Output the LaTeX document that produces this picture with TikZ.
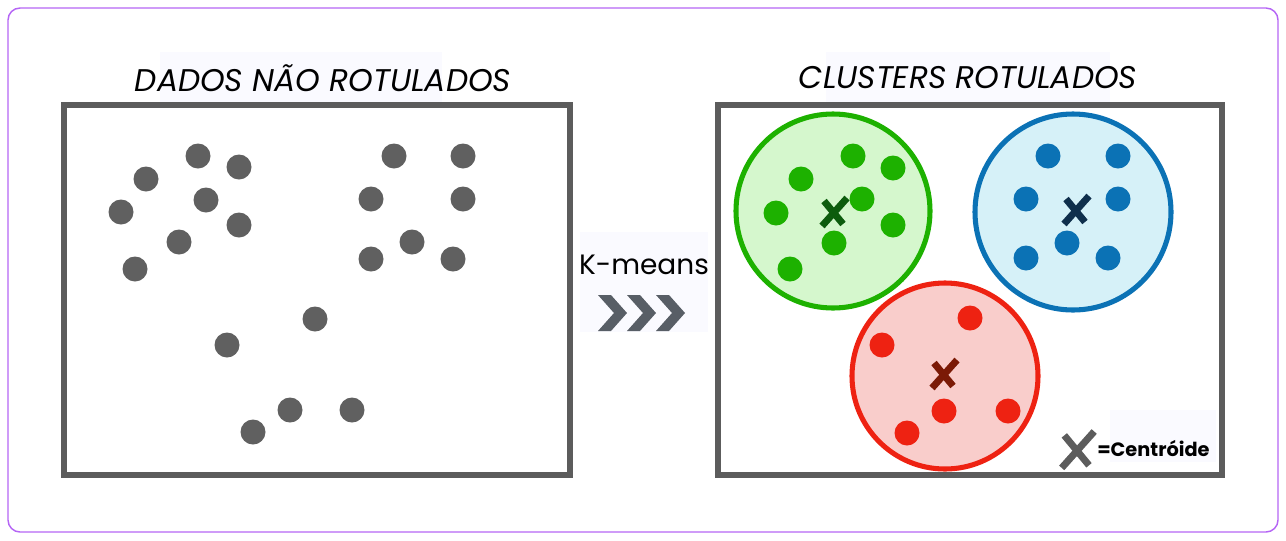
\documentclass[tikz,border=0pt]{standalone}
\usepackage{fontspec}
\setmainfont{Poppins}
\usepackage{tikz}
\usepackage{xcolor}
\usetikzlibrary{positioning}
\definecolor{framepurple}{HTML}{B565F5}
\definecolor{boxgray}{HTML}{5C5C5C}
\definecolor{dotgray}{HTML}{606060}
\definecolor{chevgray}{HTML}{585E66}
\definecolor{paleback}{HTML}{FAFAFF}
\definecolor{grfill}{HTML}{D5F7CD}
\definecolor{grline}{HTML}{1DB100}
\definecolor{grdark}{HTML}{0D5C0D}
\definecolor{blfill}{HTML}{D6F1F8}
\definecolor{blline}{HTML}{0B72B5}
\definecolor{bldark}{HTML}{0F2F4C}
\definecolor{rdfill}{HTML}{F9CDCB}
\definecolor{rdline}{HTML}{EE2212}
\definecolor{rddark}{HTML}{7B1A06}
\tikzset{
  databox/.style={draw=boxgray,line width=5.2pt},
  cluster/.style={line width=3.8pt},
  titletext/.style={font=\fontsize{23.5}{28}\selectfont\itshape,text=black},
  centroid/.pic={
    \draw[line width=5.2pt,line join=round] (-9,-12)--(10,11);
    \draw[line width=5.2pt,line join=round] (14,-15)--(-11,13);
  }
}
\begin{document}
\begin{tikzpicture}[x=0.75pt,y=-0.75pt]
    \useasboundingbox (0,0) rectangle (1286,540);
    \draw[color=framepurple,line width=1.1pt,rounded corners=9pt](8,8) rectangle (1278,532);
    % titles
    \fill[paleback] (160,52) rectangle (442,104);
    \fill[paleback] (826,52) rectangle (1110,104);
    \node[titletext] (tleft) at (323,78) {DADOS NÃO ROTULADOS};
    \node[titletext] (tright) at (968,78) {CLUSTERS ROTULADOS};
    % boxes
    \draw[databox] (64,105) rectangle (570,475);
    % left data
    \foreach \px/\py in {198/156,239/167,146/179,206/200,121/212,239/225,179/242,135/269,
        394/156,463/156,371/199,463/199,412/242,371/259,453/259,
        315/319,227/345,290/410,352/410,253/432}
        \fill[dotgray] (\px,\py) circle (12.5);
    % arrow
    \fill[paleback] (580,232) rectangle (708,332);
    \node[font=\fontsize{21}{24}\selectfont] (kmeans) at (644,265) {K-means};
    \foreach \cx in {598,627,656}
        \fill[chevgray] (\cx,295)--(\cx+13,295)--(\cx+29,313)--(\cx+13,331)--(\cx,331)--(\cx+16,313)--cycle;
    % clusters
    \draw[databox] (718,105) rectangle (1222,475);
    \filldraw[cluster,fill=grfill,draw=grline] (833,211) circle (97);
    \filldraw[cluster,fill=blfill,draw=blline] (1073,212) circle (98);
    \filldraw[cluster,fill=rdfill,draw=rdline] (945,376) circle (93);
    \foreach \px/\py in {853/156,893/168,801/179,862/199,776/213,893/225,834/243,790/269}
        \fill[grline] (\px,\py) circle (12.5);
    \foreach \px/\py in {1048/156,1118/156,1026/199,1118/199,1067/243,1026/258,1108/258}
        \fill[blline] (\px,\py) circle (12.5);
    \foreach \px/\py in {970/318,882/345,944/411,1008/411,907/433}
        \fill[rdline] (\px,\py) circle (12.5);
    \pic[draw=grdark] at (833,213) {centroid};
    \pic[draw=bldark] at (1075,211) {centroid};
    \pic[draw=rddark] at (943,375) {centroid};
    % legend
    \fill[paleback] (1110,410) rectangle (1216,462);
    \pic[draw=boxgray,scale=1.3] at (1076,451) {centroid};
    \node[font=\fontsize{14.5}{17}\selectfont\bfseries,anchor=west,inner sep=0pt] (legend) at (1097,449) {=Centróide};
\end{tikzpicture}
\end{document}
